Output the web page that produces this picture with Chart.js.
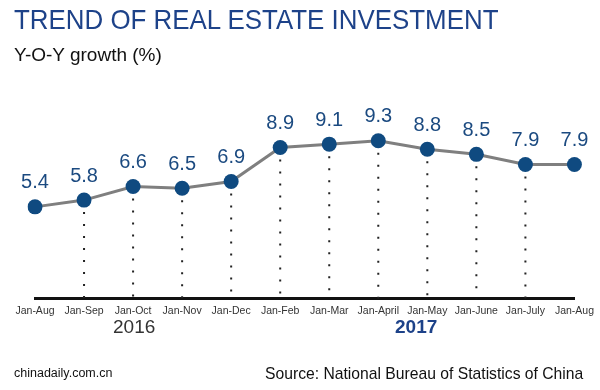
<!DOCTYPE html>
<html>
<head>
<meta charset="utf-8">
<script src="https://cdn.jsdelivr.net/npm/chart.js@4"></script>
<style>
  body { margin: 0; background: #fff; }
  #wrap { position: relative; width: 600px; height: 390px; overflow: hidden; font-family: "Liberation Sans", Arial, sans-serif; }
  canvas { position: absolute; left: 0; top: 0; }
  .txt { position: absolute; white-space: nowrap; line-height: 1; }
  #title { left: 14px; top: 6px; font-size: 28px; color: #1d4289; transform: scaleX(0.925); transform-origin: left top; }
  #sub { left: 14px; top: 45px; font-size: 19px; color: #111; }
  #y2016 { left: 113px; top: 317px; font-size: 19px; color: #333; }
  #y2017 { left: 395px; top: 317px; font-size: 19px; color: #1d4289; font-weight: bold; }
  #site { left: 14px; top: 367px; font-size: 12.5px; color: #111; }
  #src { left: 265px; top: 366px; font-size: 15.7px; color: #111; }
</style>
</head>
<body>
<div id="wrap">
  <canvas id="chart" width="600" height="390"></canvas>
  <div class="txt" id="title">TREND OF REAL ESTATE INVESTMENT</div>
  <div class="txt" id="sub">Y-O-Y growth (%)</div>
  <div class="txt" id="y2016">2016</div>
  <div class="txt" id="y2017">2017</div>
  <div class="txt" id="site">chinadaily.com.cn</div>
  <div class="txt" id="src">Source: National Bureau of Statistics of China</div>
</div>
<script>
// categories and values
const months = ['Jan-Aug', 'Jan-Sep', 'Jan-Oct', 'Jan-Nov', 'Jan-Dec', 'Jan-Feb',
                'Jan-Mar', 'Jan-April', 'Jan-May', 'Jan-June', 'Jan-July', 'Jan-Aug'];
const growth = [5.4, 5.8, 6.6, 6.5, 6.9, 8.9, 9.1, 9.3, 8.8, 8.5, 7.9, 7.9];
// which points get a dotted drop line
const dropLines = [false, true, true, true, true, true, true, true, true, true, true, false];

// dotted lines from the points down to the axis
const dropPlugin = {
    id: 'drops',
    beforeDatasetsDraw(chart) {
        const ctx = chart.ctx;
        const pts = chart.getDatasetMeta(0).data;
        const bottom = chart.chartArea.bottom;
        ctx.save();
        ctx.strokeStyle = '#222';
        ctx.lineWidth = 2;
        ctx.setLineDash([2, 10]);
        pts.forEach((p, i) => {
            if (!dropLines[i]) return;
            ctx.beginPath();
            ctx.moveTo(p.x, p.y + 12);
            ctx.lineTo(p.x, bottom);
            ctx.stroke();
        });
        ctx.restore();
    }
};

// value labels above points
const labelPlugin = {
    id: 'valueLabels',
    afterDatasetsDraw(chart) {
        const ctx = chart.ctx;
        const pts = chart.getDatasetMeta(0).data;
        ctx.save();
        ctx.font = '20px "Liberation Sans", Arial, sans-serif';
        ctx.fillStyle = '#1b4a80';
        ctx.textAlign = 'center';
        ctx.textBaseline = 'middle';
        pts.forEach((p, i) => {
            ctx.fillText(growth[i].toFixed(1), p.x, p.y - 24);
        });
        ctx.restore();
    }
};

new Chart(document.getElementById('chart'), {
    type: 'line',
    data: {
        labels: months,
        datasets: [{
            data: growth,
            borderColor: '#7f7f7f',
            borderWidth: 3,
            pointRadius: 7.5,
            pointBackgroundColor: '#0f4a80',
            pointBorderColor: '#0f4a80',
            pointBorderWidth: 0,
            tension: 0
        }]
    },
    options: {
        responsive: false,
        animation: false,
        layout: { padding: { left: 35, right: 25, top: 95, bottom: 67 } },
        plugins: { legend: { display: false }, tooltip: { enabled: false } },
        scales: {
            x: {
                offset: false,
                grid: { display: false, drawTicks: false },
                border: { color: '#111', width: 3 },
                ticks: {
                    color: '#333',
                    font: { size: 10.5, family: '"Liberation Sans", Arial, sans-serif' },
                    maxRotation: 0,
                    autoSkip: false,
                    padding: 6
                }
            },
            y: {
                display: false,
                min: 0,
                max: 12
            }
        }
    },
    plugins: [dropPlugin, labelPlugin]
});
</script>
</body>
</html>
